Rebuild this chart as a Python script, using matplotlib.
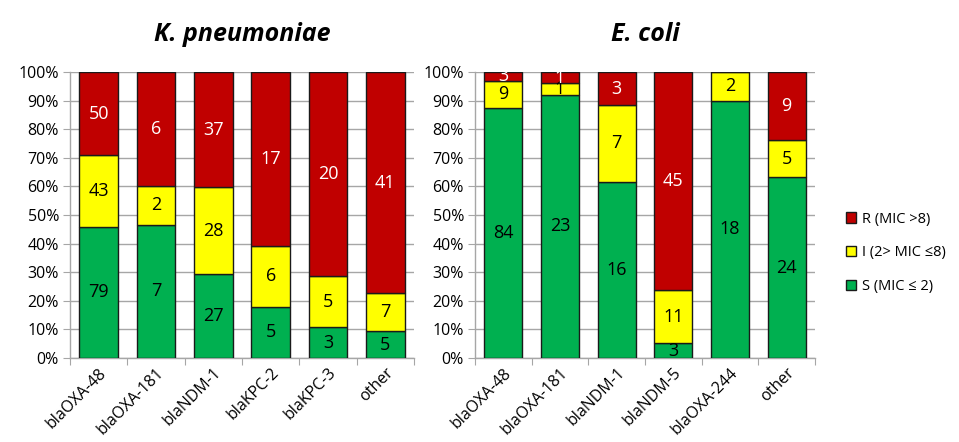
import numpy as np
import matplotlib.pyplot as plt

# K. pneumoniae counts
kp_genes = ['blaOXA-48', 'blaOXA-181', 'blaNDM-1', 'blaKPC-2', 'blaKPC-3', 'other']
kp_s = [79, 7, 27, 5, 3, 5]
kp_i = [43, 2, 28, 6, 5, 7]
kp_r = [50, 6, 37, 17, 20, 41]

# E. coli counts
ec_genes = ['blaOXA-48', 'blaOXA-181', 'blaNDM-1', 'blaNDM-5', 'blaOXA-244', 'other']
ec_s = [84, 23, 16, 3, 18, 24]
ec_i = [9, 1, 7, 11, 2, 5]
ec_r = [3, 1, 3, 45, 0, 9]

labels = ['S (MIC \u2264 2)', 'I (2> MIC \u22648)', 'R (MIC >8)']
colors = ['#00B050', '#FFFF00', '#C00000']
text_colors = ['black', 'black', 'white']

plt.rcParams['font.family'] = ['Open Sans', 'DejaVu Sans']

fig = plt.figure(figsize=(9.59, 4.42), dpi=100)
W, H = 959, 442


def stacked(ax, genes, s, i, r, title):
    counts = np.array([s, i, r], dtype=float)
    pct = counts / counts.sum(axis=0) * 100
    x = np.arange(len(genes))
    bottom = np.zeros(len(genes))
    bars = []
    for k in range(3):
        b = ax.bar(x, pct[k], 0.67, bottom=bottom, color=colors[k],
                   edgecolor='#1a1a1a', linewidth=1.0, zorder=3, label=labels[k])
        bars.append(b)
        for j in range(len(genes)):
            if counts[k, j] > 0:
                ax.text(x[j], bottom[j] + pct[k, j] / 2, '%d' % counts[k, j],
                        ha='center', va='center', fontsize=13,
                        color=text_colors[k], zorder=4)
        bottom += pct[k]
    ax.set_xlim(-0.5, len(genes) - 0.5)
    ax.set_ylim(0, 100)
    ax.set_yticks(np.arange(0, 101, 10))
    ax.set_yticklabels(['%d%%' % v for v in range(0, 101, 10)], fontsize=11.5)
    ax.yaxis.grid(True, color='#A6A6A6', linewidth=1, zorder=0)
    ax.set_axisbelow(True)
    ax.set_xticks(np.arange(-0.5, len(genes), 1.0))
    ax.set_xticklabels([])
    ax.set_xticks(x, minor=True)
    ax.set_xticklabels(genes, minor=True, rotation=45, ha='right',
                       rotation_mode='anchor', fontsize=11.5)
    ax.tick_params(axis='x', which='minor', length=0, pad=5)
    ax.tick_params(axis='x', which='major', length=5, color='#A6A6A6')
    ax.tick_params(axis='y', length=5, color='#A6A6A6', pad=3)
    for sp in ['top', 'right']:
        ax.spines[sp].set_visible(False)
    for sp in ['left', 'bottom']:
        ax.spines[sp].set_color('#A6A6A6')
        ax.spines[sp].set_linewidth(1)
    ax.set_title(title, fontsize=18, fontweight='bold', style='italic', pad=22)
    return bars


ax1 = fig.add_axes([70 / W, 1 - 358 / H, 344 / W, 286 / H])
ax2 = fig.add_axes([475 / W, 1 - 358 / H, 340 / W, 286 / H])

stacked(ax1, kp_genes, kp_s, kp_i, kp_r, 'K. pneumoniae')
bars = stacked(ax2, ec_genes, ec_s, ec_i, ec_r, 'E. coli')

handles = [bars[2], bars[1], bars[0]]
fig.legend(handles, [labels[2], labels[1], labels[0]], loc='center left',
           bbox_to_anchor=(836 / W, 1 - 253 / H), frameon=False, fontsize=10.5,
           handlelength=0.7, handleheight=0.7, handletextpad=0.35,
           labelspacing=1.3, borderpad=0.2)

fig.savefig('out.png', dpi=100)
